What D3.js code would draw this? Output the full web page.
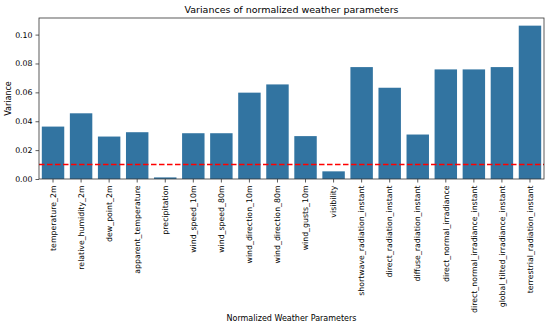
<!DOCTYPE html>
<html>
<head>
<meta charset="utf-8">
<script src="https://cdn.jsdelivr.net/npm/d3@7"></script>
<style>
  body { margin: 0; background: #fff; }
  text { font-family: "DejaVu Sans", sans-serif; fill: #000; }
</style>
</head>
<body>
<div id="chart"></div>
<script>
var params = ['temperature_2m', 'relative_humidity_2m', 'dew_point_2m', 'apparent_temperature',
  'precipitation', 'wind_speed_10m', 'wind_speed_80m', 'wind_direction_10m', 'wind_direction_80m',
  'wind_gusts_10m', 'visibility', 'shortwave_radiation_instant', 'direct_radiation_instant',
  'diffuse_radiation_instant', 'direct_normal_irradiance', 'direct_normal_irradiance_instant',
  'global_tilted_irradiance_instant', 'terrestrial_radiation_instant']
var variances = [0.0363, 0.0455, 0.0294, 0.0324, 0.0011, 0.0317, 0.0317, 0.0598, 0.0655,
  0.0297, 0.0053, 0.0775, 0.0632, 0.0308, 0.0759, 0.0759, 0.0775, 0.1062]
var yTicks = [0.00, 0.02, 0.04, 0.06, 0.08, 0.10]
var threshold = 0.01

var width = 550
var height = 327
var margin = {top: 18, right: 6, bottom: 148, left: 39}

var svg = d3.select('#chart').append('svg')
  .attr('width', width)
  .attr('height', height)

var x = d3.scaleBand()
  .domain(params)
  .range([margin.left, width - margin.right])
  .paddingInner(0.2)
  .paddingOuter(0.1)

var y = d3.scaleLinear()
  .domain([0, 0.1115])
  .range([height - margin.bottom, margin.top])

// bars
svg.append('g').selectAll('rect')
  .data(params)
  .enter().append('rect')
  .attr('x', function (d) { return x(d) })
  .attr('y', function (d, i) { return y(variances[i]) })
  .attr('width', x.bandwidth())
  .attr('height', function (d, i) { return y(0) - y(variances[i]) })
  .attr('fill', '#3274a1')

// threshold line
svg.append('line')
  .attr('x1', margin.left)
  .attr('x2', width - margin.right)
  .attr('y1', y(threshold))
  .attr('y2', y(threshold))
  .attr('stroke', 'red')
  .attr('stroke-width', 1.5)
  .attr('stroke-dasharray', '5.5,2.5')

// axes
var xAxis = svg.append('g')
  .attr('transform', 'translate(0,' + (height - margin.bottom) + ')')
  .call(d3.axisBottom(x).tickSize(3.5).tickSizeOuter(0))
xAxis.selectAll('text')
  .attr('transform', 'rotate(-90)')
  .attr('text-anchor', 'end')
  .attr('x', -6.5)
  .attr('y', 0)
  .attr('dy', '0.35em')
  .style('font-size', '7.8px')

var yAxis = svg.append('g')
  .attr('transform', 'translate(' + margin.left + ',0)')
  .call(d3.axisLeft(y).tickValues(yTicks).tickFormat(d3.format('.2f')).tickSize(3.5).tickSizeOuter(0))
yAxis.selectAll('text').style('font-size', '7.8px').attr('x', -6.5)

svg.selectAll('.domain').remove()
svg.selectAll('.tick line').attr('stroke', '#333').attr('stroke-width', 0.8)

// frame
svg.append('rect')
  .attr('x', margin.left)
  .attr('y', margin.top)
  .attr('width', width - margin.left - margin.right)
  .attr('height', height - margin.top - margin.bottom)
  .attr('fill', 'none')
  .attr('stroke', '#333')
  .attr('stroke-width', 0.8)

// labels
svg.append('text')
  .attr('x', (margin.left + width - margin.right) / 2)
  .attr('y', 13)
  .attr('text-anchor', 'middle')
  .style('font-size', '9.5px')
  .text('Variances of normalized weather parameters')

svg.append('text')
  .attr('x', (margin.left + width - margin.right) / 2)
  .attr('y', 321)
  .attr('text-anchor', 'middle')
  .style('font-size', '8px')
  .text('Normalized Weather Parameters')

svg.append('text')
  .attr('transform', 'translate(11,' + ((margin.top + height - margin.bottom) / 2) + ') rotate(-90)')
  .attr('text-anchor', 'middle')
  .style('font-size', '8px')
  .text('Variance')
</script>
</body>
</html>
